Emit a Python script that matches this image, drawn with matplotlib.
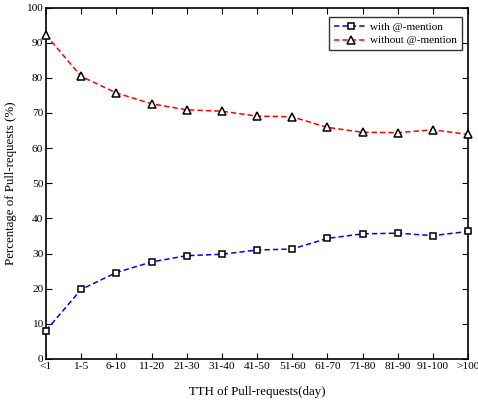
import matplotlib
matplotlib.use("Agg")
import matplotlib.pyplot as plt

categories = ["<1", "1-5", "6-10", "11-20", "21-30", "31-40", "41-50", "51-60",
              "61-70", "71-80", "81-90", "91-100", ">100"]
with_mention = [8.1, 19.8, 24.6, 27.6, 29.4, 29.8, 31.0, 31.3, 34.3, 35.6, 35.8, 35.1, 36.3]
without_mention = [92.2, 80.4, 75.7, 72.6, 70.9, 70.5, 69.1, 68.9, 65.9, 64.5, 64.4, 65.2, 63.9]
yticks = [0, 10, 20, 30, 40, 50, 60, 70, 80, 90, 100]

plt.rcParams['font.family'] = ['Liberation Serif', 'DejaVu Serif']
fig = plt.figure(figsize=(4.78, 4.04), dpi=100)
ax = fig.add_axes([46/478, 1 - 359/404, (468-46)/478, (359-7.5)/404])

x = list(range(len(categories)))
ax.plot(x, with_mention, color='blue', linestyle=(0, (3.5, 2)), linewidth=1.1,
        marker='s', markersize=4.6, markerfacecolor='white', markeredgecolor='black',
        markeredgewidth=1.1, label='with @-mention', clip_on=False, zorder=3)
ax.plot(x, without_mention, color='red', linestyle=(0, (3.5, 2)), linewidth=1.1,
        marker='^', markersize=5.5, markerfacecolor='white', markeredgecolor='black',
        markeredgewidth=1.1, label='without @-mention', clip_on=False, zorder=3)

ax.set_xlim(0, len(categories) - 1)
ax.set_ylim(0, 100)
ax.set_xticks(x)
ax.set_xticklabels(categories)
ax.set_yticks(yticks)
ax.tick_params(direction='in', top=True, right=True, labelsize=8.2, length=4, width=0.8,
               pad=2, colors='black')
for s in ax.spines.values():
    s.set_linewidth(1.2)

ax.set_xlabel('TTH of Pull-requests(day)', fontsize=9.3, labelpad=11)
ax.set_ylabel('Percentage of Pull-requests (%)', fontsize=9.3, labelpad=7)

leg = ax.legend(loc='upper right', bbox_to_anchor=((462-46)/422, (359-17)/351.5),
                fontsize=8, frameon=True, fancybox=False,
                edgecolor='black', borderpad=0.45, handlelength=3.0, labelspacing=0.35,
                borderaxespad=0.0, handletextpad=0.25)
leg.get_frame().set_linewidth(1.0)

fig.savefig('out.png', dpi=100)
